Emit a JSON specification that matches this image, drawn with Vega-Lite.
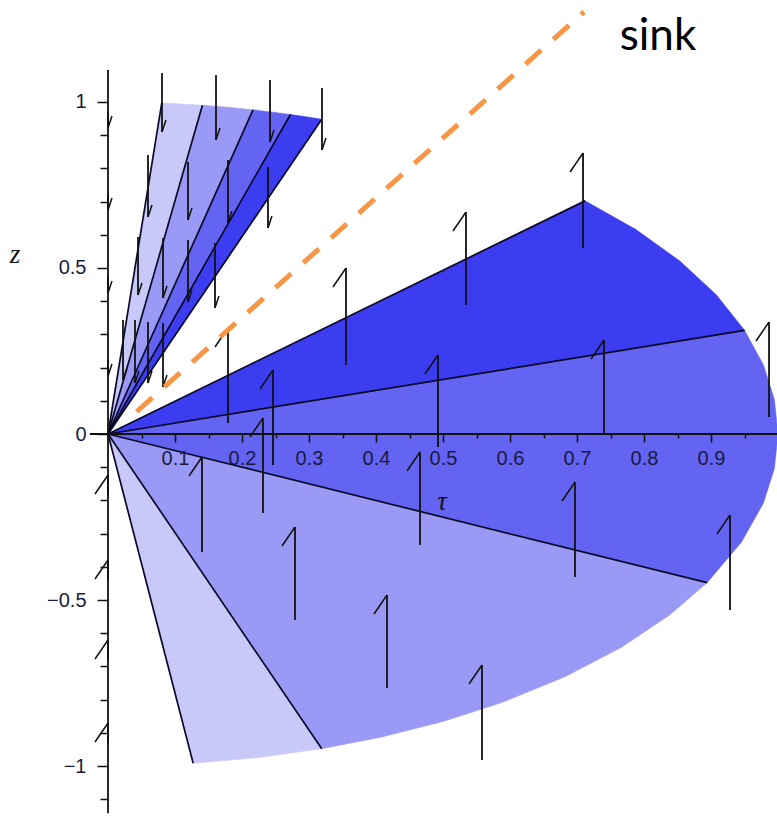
{
  "$schema": "https://vega.github.io/schema/vega-lite/v6.json",
  "width": 777,
  "height": 819,
  "autosize": "none",
  "padding": 0,
  "background": "white",
  "config": {"view": {"stroke": null}},
  "encoding": {
    "x": {
      "field": "t",
      "type": "quantitative",
      "scale": {"domain": [-0.1612, 0.9985], "nice": false, "zero": false},
      "axis": {
        "orient": "bottom",
        "offset": -385,
        "domain": false,
        "grid": false,
        "title": null,
        "zindex": 1,
        "values": [0.05, 0.1, 0.15, 0.2, 0.25, 0.3, 0.35, 0.4, 0.45, 0.5, 0.55, 0.6, 0.65, 0.7, 0.75, 0.8, 0.85, 0.9, 0.95],
        "format": "~g",
        "labelExpr": "round(datum.value * 20) % 2 == 0 ? datum.label : ''",
        "tickSize": {"condition": {"test": "round(datum.value * 20) % 2 == 0", "value": 8}, "value": 4},
        "tickColor": "#111111",
        "tickWidth": 1.5,
        "labelFont": "Liberation Sans",
        "labelFontSize": 20,
        "labelColor": "#1a1a40",
        "labelPadding": 6,
        "labelOverlap": false,
        "labelFlush": false,
        "labelBound": false
      }
    },
    "y": {
      "field": "z",
      "type": "quantitative",
      "scale": {"domain": [-1.1596, 1.3072], "nice": false, "zero": false},
      "axis": {
        "orient": "left",
        "offset": -108,
        "domain": false,
        "grid": false,
        "title": null,
        "zindex": 1,
        "values": [-1.1, -1, -0.9, -0.8, -0.7, -0.6, -0.5, -0.4, -0.3, -0.2, -0.1, 0, 0.1, 0.2, 0.3, 0.4, 0.5, 0.6, 0.7, 0.8, 0.9, 1],
        "format": "~g",
        "labelExpr": "round(datum.value * 10) % 5 == 0 ? datum.label : ''",
        "tickSize": {"condition": {"test": "round(datum.value * 10) % 5 == 0", "value": 11}, "value": 8},
        "tickColor": "#111111",
        "tickWidth": 1.5,
        "labelFont": "Liberation Sans",
        "labelFontSize": 20,
        "labelColor": "#1a1a40",
        "labelPadding": 11,
        "labelOverlap": false,
        "labelFlush": false,
        "labelBound": false
      }
    }
  },
  "layer": [
    {
      "description": "Shaded sectors of the unit disc",
      "data": {
        "values": [
          {"wedge": "U1", "shade": "a", "i": 0, "t": 0, "z": 0},
          {"wedge": "U1", "shade": "a", "i": 1, "t": 0.0802, "z": 0.9968},
          {"wedge": "U1", "shade": "a", "i": 2, "t": 0.1115, "z": 0.9938},
          {"wedge": "U1", "shade": "a", "i": 3, "t": 0.1409, "z": 0.99},
          {"wedge": "U2", "shade": "b", "i": 0, "t": 0, "z": 0},
          {"wedge": "U2", "shade": "b", "i": 1, "t": 0.1409, "z": 0.99},
          {"wedge": "U2", "shade": "b", "i": 2, "t": 0.1788, "z": 0.9839},
          {"wedge": "U2", "shade": "b", "i": 3, "t": 0.2164, "z": 0.9763},
          {"wedge": "U3", "shade": "c", "i": 0, "t": 0, "z": 0},
          {"wedge": "U3", "shade": "c", "i": 1, "t": 0.2164, "z": 0.9763},
          {"wedge": "U3", "shade": "c", "i": 2, "t": 0.2453, "z": 0.9694},
          {"wedge": "U3", "shade": "c", "i": 3, "t": 0.2723, "z": 0.9622},
          {"wedge": "U4", "shade": "d", "i": 0, "t": 0, "z": 0},
          {"wedge": "U4", "shade": "d", "i": 1, "t": 0.2723, "z": 0.9622},
          {"wedge": "U4", "shade": "d", "i": 2, "t": 0.2957, "z": 0.9553},
          {"wedge": "U4", "shade": "d", "i": 3, "t": 0.319, "z": 0.9478},
          {"wedge": "R1", "shade": "d", "i": 0, "t": 0, "z": 0},
          {"wedge": "R1", "shade": "d", "i": 1, "t": 0.712, "z": 0.7022},
          {"wedge": "R1", "shade": "d", "i": 2, "t": 0.788, "z": 0.6157},
          {"wedge": "R1", "shade": "d", "i": 3, "t": 0.8535, "z": 0.521},
          {"wedge": "R1", "shade": "d", "i": 4, "t": 0.9078, "z": 0.4195},
          {"wedge": "R1", "shade": "d", "i": 5, "t": 0.95, "z": 0.3123},
          {"wedge": "R2", "shade": "c", "i": 0, "t": 0, "z": 0},
          {"wedge": "R2", "shade": "c", "i": 1, "t": 0.95, "z": 0.3123},
          {"wedge": "R2", "shade": "c", "i": 2, "t": 0.9782, "z": 0.2079},
          {"wedge": "R2", "shade": "c", "i": 3, "t": 0.9945, "z": 0.1045},
          {"wedge": "R2", "shade": "c", "i": 4, "t": 1.0, "z": 0},
          {"wedge": "R2", "shade": "c", "i": 5, "t": 0.9945, "z": -0.1045},
          {"wedge": "R2", "shade": "c", "i": 6, "t": 0.9782, "z": -0.2079},
          {"wedge": "R2", "shade": "c", "i": 7, "t": 0.9455, "z": -0.3256},
          {"wedge": "R2", "shade": "c", "i": 8, "t": 0.8942, "z": -0.4478},
          {"wedge": "R3", "shade": "b", "i": 0, "t": 0, "z": 0},
          {"wedge": "R3", "shade": "b", "i": 1, "t": 0.8942, "z": -0.4478},
          {"wedge": "R3", "shade": "b", "i": 2, "t": 0.8387, "z": -0.5446},
          {"wedge": "R3", "shade": "b", "i": 3, "t": 0.766, "z": -0.6428},
          {"wedge": "R3", "shade": "b", "i": 4, "t": 0.682, "z": -0.7314},
          {"wedge": "R3", "shade": "b", "i": 5, "t": 0.5878, "z": -0.809},
          {"wedge": "R3", "shade": "b", "i": 6, "t": 0.5, "z": -0.866},
          {"wedge": "R3", "shade": "b", "i": 7, "t": 0.4067, "z": -0.9136},
          {"wedge": "R3", "shade": "b", "i": 8, "t": 0.319, "z": -0.9478},
          {"wedge": "R4", "shade": "a", "i": 0, "t": 0, "z": 0},
          {"wedge": "R4", "shade": "a", "i": 1, "t": 0.319, "z": -0.9478},
          {"wedge": "R4", "shade": "a", "i": 2, "t": 0.225, "z": -0.9744},
          {"wedge": "R4", "shade": "a", "i": 3, "t": 0.1271, "z": -0.9919}
        ]
      },
      "mark": {"type": "line", "interpolate": "linear-closed", "strokeWidth": 0.6, "fillOpacity": 1},
      "encoding": {
        "detail": {"field": "wedge"},
        "order": {"field": "i", "type": "quantitative"},
        "fill": {"field": "shade", "type": "nominal", "scale": {"domain": ["a", "b", "c", "d"], "range": ["#c9c9f9", "#9a9af6", "#6464f2", "#3c3cf0"]}, "legend": null},
        "stroke": {"field": "shade", "type": "nominal", "scale": {"domain": ["a", "b", "c", "d"], "range": ["#c9c9f9", "#9a9af6", "#6464f2", "#3c3cf0"]}, "legend": null}
      }
    },
    {
      "description": "Sector edges from the origin",
      "data": {
        "values": [
          {"t": 0.0802, "z": 0.9968, "t2": 0, "z2": 0},
          {"t": 0.1409, "z": 0.99, "t2": 0, "z2": 0},
          {"t": 0.2164, "z": 0.9763, "t2": 0, "z2": 0},
          {"t": 0.2723, "z": 0.9622, "t2": 0, "z2": 0},
          {"t": 0.319, "z": 0.9478, "t2": 0, "z2": 0},
          {"t": 0.712, "z": 0.7022, "t2": 0, "z2": 0},
          {"t": 0.95, "z": 0.3123, "t2": 0, "z2": 0},
          {"t": 0.8942, "z": -0.4478, "t2": 0, "z2": 0},
          {"t": 0.319, "z": -0.9478, "t2": 0, "z2": 0},
          {"t": 0.1271, "z": -0.9919, "t2": 0, "z2": 0}
        ]
      },
      "mark": {"type": "rule", "color": "#0a0a28", "strokeWidth": 1.7},
      "encoding": {"x2": {"field": "t2"}, "y2": {"field": "z2"}}
    },
    {
      "description": "Coordinate axes through the origin",
      "data": {
        "values": [
          {"t": -0.027, "z": 0, "t2": 1.0, "z2": 0},
          {"t": 0, "z": 1.096, "t2": 0, "z2": -1.142}
        ]
      },
      "mark": {"type": "rule", "color": "#111111", "strokeWidth": 1.8},
      "encoding": {"x2": {"field": "t2"}, "y2": {"field": "z2"}}
    },
    {
      "description": "Direction field arrows: shafts from tip (z) to tail (z2)",
      "data": {
        "name": "arrows",
        "values": [
          {"dir": "up", "t": 0.709, "z": 0.8464, "z2": 0.5602},
          {"dir": "up", "t": 0.5343, "z": 0.6687, "z2": 0.3886},
          {"dir": "up", "t": 0.9866, "z": 0.3373, "z2": 0.0512},
          {"dir": "up", "t": 0.7403, "z": 0.2831, "z2": 0.003},
          {"dir": "up", "t": 0.4925, "z": 0.238, "z2": -0.0392},
          {"dir": "up", "t": 0.4657, "z": -0.0542, "z2": -0.3343},
          {"dir": "up", "t": 0.697, "z": -0.1446, "z2": -0.4307},
          {"dir": "up", "t": 0.9284, "z": -0.244, "z2": -0.5301},
          {"dir": "up", "t": 0.4164, "z": -0.4849, "z2": -0.7651},
          {"dir": "up", "t": 0.5582, "z": -0.6958, "z2": -0.9819},
          {"dir": "up", "t": 0.3552, "z": 0.5, "z2": 0.2078},
          {"dir": "up", "t": 0.1791, "z": 0.3193, "z2": 0.0331},
          {"dir": "up", "t": 0.2463, "z": 0.1928, "z2": -0.0934},
          {"dir": "up", "t": 0.2313, "z": 0.0482, "z2": -0.238},
          {"dir": "up", "t": 0.1403, "z": -0.0693, "z2": -0.3554},
          {"dir": "up", "t": 0.2791, "z": -0.2801, "z2": -0.5602},
          {"dir": "up", "t": 0, "z": -0.1235, "z2": -0.1835},
          {"dir": "up", "t": 0, "z": -0.3795, "z2": -0.4395},
          {"dir": "up", "t": 0, "z": -0.6205, "z2": -0.6805},
          {"dir": "up", "t": 0, "z": -0.8705, "z2": -0.9305},
          {"dir": "down", "t": 0.0806, "z": 0.9096, "z2": 1.0873},
          {"dir": "down", "t": 0.1612, "z": 0.8855, "z2": 1.0813},
          {"dir": "down", "t": 0.2418, "z": 0.8795, "z2": 1.0663},
          {"dir": "down", "t": 0.3194, "z": 0.8554, "z2": 1.0422},
          {"dir": "down", "t": 0.0597, "z": 0.6536, "z2": 0.8404},
          {"dir": "down", "t": 0.1194, "z": 0.6446, "z2": 0.8193},
          {"dir": "down", "t": 0.1791, "z": 0.6355, "z2": 0.8253},
          {"dir": "down", "t": 0.2388, "z": 0.6205, "z2": 0.8042},
          {"dir": "down", "t": 0.0448, "z": 0.4187, "z2": 0.5934},
          {"dir": "down", "t": 0.0821, "z": 0.4096, "z2": 0.5904},
          {"dir": "down", "t": 0.1194, "z": 0.3976, "z2": 0.5843},
          {"dir": "down", "t": 0.1597, "z": 0.3795, "z2": 0.5753},
          {"dir": "down", "t": 0.0224, "z": 0.1627, "z2": 0.3434},
          {"dir": "down", "t": 0.0403, "z": 0.1536, "z2": 0.3434},
          {"dir": "down", "t": 0.0597, "z": 0.1536, "z2": 0.3373},
          {"dir": "down", "t": 0.0821, "z": 0.1416, "z2": 0.3343},
          {"dir": "down", "t": 0, "z": 0.9217, "z2": 0.9717},
          {"dir": "down", "t": 0, "z": 0.6747, "z2": 0.7247},
          {"dir": "down", "t": 0, "z": 0.4247, "z2": 0.4747},
          {"dir": "down", "t": 0, "z": 0.1747, "z2": 0.2247}
        ]
      },
      "mark": {"type": "rule", "color": "#111111", "strokeWidth": 1.8},
      "encoding": {"y2": {"field": "z2"}}
    },
    {
      "description": "Half arrowheads on upward arrows",
      "data": {"name": "arrows"},
      "transform": [{"filter": "datum.dir == 'up'"}],
      "mark": {"type": "point", "shape": "M0,0L-0.684,1", "size": 1444, "filled": false, "stroke": "#111111", "strokeWidth": 1.5, "opacity": 1}
    },
    {
      "description": "Half arrowheads on downward arrows",
      "data": {"name": "arrows"},
      "transform": [{"filter": "datum.dir == 'down'"}],
      "mark": {"type": "point", "shape": "M0,0L0.33,-1", "size": 576, "filled": false, "stroke": "#111111", "strokeWidth": 1.5, "opacity": 1}
    },
    {
      "description": "Dashed sink direction",
      "data": {"values": [{"i": 0, "t": 0.0428, "z": 0.0672}, {"i": 1, "t": 0.7104, "z": 1.2711}]},
      "mark": {"type": "line", "color": "#F79646", "strokeWidth": 5, "strokeDash": [21, 16.25]},
      "encoding": {"order": {"field": "i", "type": "quantitative"}}
    },
    {
      "description": "Axis titles",
      "data": {"values": [{"label": "τ", "t": 0.4985, "z": -0.205}, {"label": "z", "t": -0.1388, "z": 0.539}]},
      "mark": {"type": "text", "font": "Liberation Serif", "fontStyle": "italic", "fontSize": 27, "color": "#111111", "align": "center", "baseline": "middle"},
      "encoding": {"text": {"field": "label"}}
    },
    {
      "description": "Annotation",
      "data": {"values": [{"label": "sink", "t": 0.8209, "z": 1.1566}]},
      "mark": {"type": "text", "font": "Lato", "fontSize": 44, "color": "#000000", "align": "center", "baseline": "alphabetic"},
      "encoding": {"text": {"field": "label"}}
    }
  ]
}
